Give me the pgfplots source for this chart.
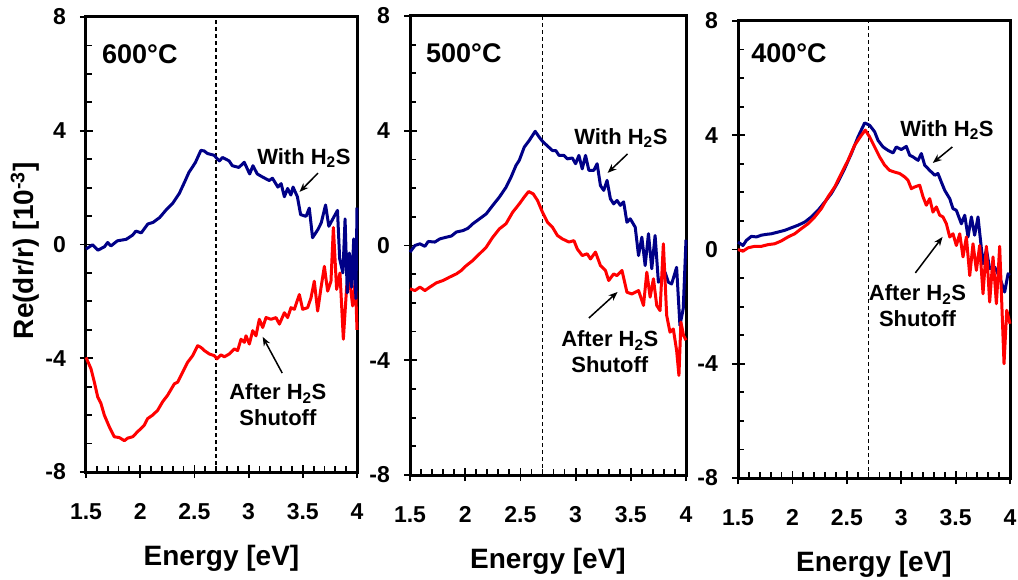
\documentclass[border=0pt]{standalone}
\usepackage{pgfplots}
\pgfplotsset{compat=1.18}
\usepackage{fontspec}
\setmainfont{Liberation Sans}
\usetikzlibrary{arrows.meta}
\definecolor{navyb}{RGB}{0,0,135}
\definecolor{redc}{RGB}{255,0,0}
\newcommand{\tickfont}{\fontsize{23}{25}\selectfont\bfseries}
\newcommand{\labfont}{\fontsize{28}{32}\selectfont\bfseries}
\newcommand{\tempfont}{\fontsize{27}{30}\selectfont\bfseries}
\newcommand{\annfont}{\fontsize{22}{25}\selectfont\bfseries}
\pgfplotsset{
  mystyle/.style={
    scale only axis, anchor=south west,
    xmin=1.5, xmax=4, ymin=-8, ymax=8,
    xtick={1.5,2,2.5,3,3.5,4}, xticklabels={1.5,2,2.5,3,3.5,4},
    ytick={-8,-4,0,4,8}, yticklabels={-8,-4,0,4,8},
    minor x tick num=4, minor y tick num=3,
    tick align=inside, xtick pos=bottom, ytick pos=left,
    major tick length=7pt, minor tick length=6pt,
    extra x ticks={1.5,2,2.5,3,3.5,4}, extra x tick labels={},
    extra x tick style={tick align=outside, major tick length=6pt},
    extra y ticks={-8,-4,0,4,8}, extra y tick labels={},
    extra y tick style={tick align=outside, major tick length=6pt},
    axis line style={line width=3pt},
    every tick/.style={black, line width=1.8pt},
    tick label style={font=\tickfont, inner sep=0pt},
    xticklabel shift=31pt, yticklabel shift=20pt,
    xlabel={Energy [eV]},
    xlabel style={font=\labfont, at={(axis description cs:0.5,0)}, anchor=center, yshift=-86pt},
    clip=false,
  },
  blueline/.style={navyb, line width=3pt, line join=round, no markers},
  redline/.style={redc, line width=3pt, line join=round, no markers},
  dashline/.style={black, line width=1.2pt, dash pattern=on 4pt off 3pt, no markers},
}
\begin{document}
\begin{tikzpicture}
\useasboundingbox (0pt,0pt) rectangle (1018pt,579pt);
% ---------------- 600 C ----------------
\begin{axis}[mystyle, at={(86pt,107pt)}, width=271pt, height=455pt,
  ylabel={Re(dr/r) [10\textsuperscript{-3}]},
  ylabel style={font=\labfont, at={(axis description cs:-0.225,0.486)}, anchor=center}]
\addplot[dashline] coordinates {(2.7,-8) (2.7,8)};
\addplot[redline] coordinates {
(1.500,-3.97) (1.546,-4.37) (1.577,-4.84) (1.608,-5.36) (1.638,-5.59) (1.669,-6.00)
(1.715,-6.41) (1.761,-6.76) (1.808,-6.79) (1.854,-6.90) (1.884,-6.81) (1.931,-6.76)
(1.977,-6.58) (2.007,-6.47) (2.038,-6.35) (2.069,-6.12) (2.115,-6.00) (2.161,-5.83)
(2.207,-5.53) (2.253,-5.30) (2.315,-4.90) (2.346,-4.84) (2.392,-4.49) (2.438,-4.14)
(2.484,-3.91) (2.530,-3.56) (2.561,-3.62) (2.592,-3.73) (2.638,-3.85) (2.684,-3.91)
(2.708,-4.02) (2.745,-3.88) (2.776,-3.95) (2.822,-3.85) (2.868,-3.67) (2.899,-3.73)
(2.930,-3.33) (2.961,-3.44) (2.976,-3.21) (3.007,-3.50) (3.038,-3.03) (3.068,-3.21)
(3.099,-2.63) (3.130,-2.92) (3.161,-2.57) (3.207,-2.63) (3.253,-2.57) (3.284,-2.80)
(3.330,-2.40) (3.360,-2.57) (3.391,-2.22) (3.422,-2.28) (3.468,-1.76) (3.499,-2.28)
(3.545,-2.22) (3.576,-1.87) (3.606,-1.29) (3.637,-2.34) (3.668,-1.52) (3.699,-0.77)
(3.729,-1.64) (3.760,-1.29) (3.782,0.60) (3.812,-1.58) (3.843,-1.00) (3.874,-3.33)
(3.905,-1.47) (3.929,-1.17) (3.960,-2.16) (3.985,-1.23) (4.000,-3.00)};
\addplot[blueline] coordinates {
(1.50,-0.16) (1.56,-0.01) (1.61,-0.20) (1.67,-0.08) (1.70,0.07) (1.73,-0.05)
(1.79,0.13) (1.87,0.18) (1.93,0.33) (1.96,0.47) (2.01,0.41) (2.07,0.72)
(2.12,0.78) (2.18,0.95) (2.24,1.22) (2.30,1.45) (2.36,1.79) (2.41,2.20)
(2.45,2.54) (2.48,2.71) (2.51,2.89) (2.56,3.31) (2.59,3.29) (2.62,3.20)
(2.68,3.14) (2.73,2.94) (2.76,3.06) (2.82,2.94) (2.85,2.77) (2.91,2.71)
(2.96,2.89) (3.01,2.48) (3.04,2.77) (3.08,2.48) (3.13,2.37) (3.19,2.25)
(3.22,2.33) (3.27,2.02) (3.30,2.14) (3.33,1.68) (3.36,1.97) (3.39,1.74)
(3.41,2.02) (3.45,1.68) (3.48,1.05) (3.53,0.99) (3.56,1.28) (3.59,0.24)
(3.64,0.53) (3.67,0.76) (3.71,1.39) (3.74,0.64) (3.79,0.99) (3.82,1.20)
(3.84,-0.50) (3.87,-1.00) (3.89,0.90) (3.91,-1.70) (3.93,-0.30) (3.95,-1.50)
(3.97,0.20) (3.99,-1.90) (4.00,1.30)};
\node[anchor=west, font=\tempfont, inner sep=0pt] at (rel axis cs:0.059,0.918) {600°C};
\node[font=\annfont, inner sep=0pt] at (axis cs:3.51,3.04) {With H\textsubscript{2}S};
\draw[-{Stealth[length=9pt,width=7pt]}, line width=1.5pt] (axis cs:3.64,2.51) -- (axis cs:3.47,1.85);
\node[font=\annfont, align=center, inner sep=0pt] at (axis cs:3.27,-5.64) {After H\textsubscript{2}S\\[1pt]Shutoff};
\draw[-{Stealth[length=9pt,width=7pt]}, line width=1.5pt] (axis cs:3.31,-4.52) -- (axis cs:3.13,-3.25);
\end{axis}
% ---------------- 500 C ----------------
\begin{axis}[mystyle, at={(410pt,104pt)}, width=276pt, height=459pt]
\addplot[dashline] coordinates {(2.7,-8) (2.7,8)};
\addplot[blueline] coordinates {
(1.500,-0.23) (1.545,0.00) (1.590,0.06) (1.635,-0.03) (1.665,0.14) (1.725,0.12)
(1.770,0.23) (1.830,0.29) (1.875,0.33) (1.920,0.47) (1.980,0.52) (2.025,0.60)
(2.070,0.76) (2.130,0.93) (2.190,1.10) (2.250,1.40) (2.310,1.69) (2.370,2.03)
(2.415,2.38) (2.460,2.79) (2.490,2.97) (2.535,3.43) (2.580,3.66) (2.634,3.98)
(2.670,3.78) (2.700,3.63) (2.745,3.47) (2.790,3.31) (2.820,3.31) (2.850,3.14)
(2.895,3.14) (2.925,3.02) (2.970,3.05) (3.000,2.85) (3.030,3.14) (3.060,2.67)
(3.090,3.14) (3.120,2.62) (3.165,2.62) (3.195,2.85) (3.225,2.09) (3.255,1.92)
(3.285,2.27) (3.315,1.63) (3.345,1.45) (3.375,1.57) (3.405,1.40) (3.435,1.52)
(3.465,0.81) (3.495,0.93) (3.540,0.64) (3.570,-0.35) (3.600,0.29) (3.630,-0.70)
(3.660,0.41) (3.690,-0.81) (3.720,0.35) (3.750,-1.28) (3.780,-1.16) (3.810,-0.93)
(3.840,-1.28) (3.870,-1.34) (3.915,-0.76) (3.945,-2.79) (3.975,-2.20) (4.000,0.20)};
\addplot[redline] coordinates {
(1.500,-1.51) (1.545,-1.57) (1.590,-1.45) (1.635,-1.57) (1.680,-1.45) (1.740,-1.30)
(1.800,-1.22) (1.860,-1.10) (1.920,-0.99) (1.965,-0.87) (2.010,-0.70) (2.070,-0.52)
(2.130,-0.29) (2.190,-0.06) (2.250,0.29) (2.310,0.58) (2.370,0.76) (2.430,1.16)
(2.490,1.45) (2.535,1.69) (2.574,1.88) (2.616,1.80) (2.655,1.57) (2.700,1.16)
(2.745,0.81) (2.790,0.64) (2.835,0.35) (2.880,0.23) (2.940,0.12) (2.985,0.17)
(3.015,-0.12) (3.060,-0.35) (3.105,-0.29) (3.135,-0.47) (3.180,-0.23) (3.225,-0.70)
(3.270,-0.87) (3.300,-1.22) (3.345,-0.99) (3.375,-1.05) (3.420,-0.87) (3.465,-1.63)
(3.510,-1.69) (3.570,-1.57) (3.615,-2.09) (3.645,-0.93) (3.675,-1.80) (3.705,-1.16)
(3.735,-2.09) (3.765,-2.27) (3.795,0.06) (3.825,-2.44) (3.855,-3.02) (3.885,-2.91)
(3.915,-3.66) (3.936,-4.53) (3.954,-2.67) (3.978,-3.14) (4.000,-3.30)};
\node[anchor=west, font=\tempfont, inner sep=0pt] at (rel axis cs:0.058,0.919) {500°C};
\node[font=\annfont, inner sep=0pt] at (axis cs:3.41,3.75) {With H\textsubscript{2}S};
\draw[-{Stealth[length=9pt,width=7pt]}, line width=1.5pt] (axis cs:3.47,3.19) -- (axis cs:3.29,2.53);
\node[font=\annfont, align=center, inner sep=0pt] at (axis cs:3.31,-3.71) {After H\textsubscript{2}S\\[1pt]Shutoff};
\draw[-{Stealth[length=9pt,width=7pt]}, line width=1.5pt] (axis cs:3.12,-2.53) -- (axis cs:3.38,-1.62);
\end{axis}
% ---------------- 400 C ----------------
\begin{axis}[mystyle, at={(738pt,101pt)}, width=272pt, height=457pt]
\addplot[dashline] coordinates {(2.7,-8) (2.7,8)};
\addplot[blueline] coordinates {
(1.500,0.26) (1.546,0.14) (1.577,0.32) (1.623,0.46) (1.669,0.44) (1.714,0.50)
(1.760,0.53) (1.806,0.55) (1.868,0.61) (1.929,0.67) (1.990,0.76) (2.052,0.85)
(2.113,0.96) (2.174,1.14) (2.235,1.37) (2.297,1.66) (2.358,1.96) (2.419,2.36)
(2.480,2.83) (2.542,3.36) (2.603,3.94) (2.664,4.43) (2.710,4.35) (2.756,4.12)
(2.787,3.82) (2.833,3.59) (2.879,3.47) (2.925,3.38) (2.955,3.59) (3.001,3.50)
(3.047,3.61) (3.078,3.30) (3.109,3.24) (3.155,3.12) (3.185,3.36) (3.216,2.95)
(3.262,2.77) (3.308,2.60) (3.338,2.66) (3.369,2.36) (3.400,2.07) (3.446,1.78)
(3.476,1.43) (3.507,1.37) (3.553,0.90) (3.584,1.20) (3.614,0.44) (3.645,1.14)
(3.675,0.50) (3.706,1.14) (3.752,-0.50) (3.783,0.00) (3.813,-0.67) (3.859,-0.61)
(3.905,-0.97) (3.951,-1.49) (3.982,-0.85) (4.000,-0.90)};
\addplot[redline] coordinates {
(1.500,0.00) (1.546,-0.06) (1.592,0.06) (1.653,0.11) (1.714,0.11) (1.776,0.17)
(1.837,0.20) (1.898,0.30) (1.960,0.44) (2.021,0.55) (2.082,0.73) (2.143,0.90)
(2.205,1.14) (2.266,1.43) (2.327,1.84) (2.389,2.19) (2.450,2.66) (2.511,3.12)
(2.572,3.65) (2.634,4.00) (2.670,4.18) (2.710,3.94) (2.756,3.59) (2.802,3.24)
(2.848,2.95) (2.894,2.77) (2.940,2.71) (2.986,2.66) (3.032,2.54) (3.063,2.42)
(3.093,2.13) (3.124,2.19) (3.170,2.25) (3.201,1.84) (3.231,1.55) (3.262,1.78)
(3.292,1.31) (3.323,1.49) (3.354,1.20) (3.384,1.14) (3.415,0.90) (3.446,0.44)
(3.476,0.55) (3.507,0.14) (3.538,0.55) (3.568,-0.26) (3.599,0.44) (3.630,-0.91)
(3.660,0.20) (3.691,-0.73) (3.721,0.14) (3.752,-1.55) (3.783,0.11) (3.813,-1.84)
(3.844,-0.26) (3.875,-1.90) (3.905,0.11) (3.945,-4.00) (3.970,-2.13) (4.000,-2.60)};
\node[anchor=west, font=\tempfont, inner sep=0pt] at (rel axis cs:0.048,0.929) {400°C};
\node[font=\annfont, inner sep=0pt] at (axis cs:3.42,4.18) {With H\textsubscript{2}S};
\draw[-{Stealth[length=9pt,width=7pt]}, line width=1.5pt] (axis cs:3.47,3.59) -- (axis cs:3.29,3.03);
\node[font=\annfont, align=center, inner sep=0pt] at (axis cs:3.15,-1.98) {After H\textsubscript{2}S\\[1pt]Shutoff};
\draw[-{Stealth[length=9pt,width=7pt]}, line width=1.5pt] (axis cs:3.13,-0.82) -- (axis cs:3.38,0.44);
\end{axis}
\end{tikzpicture}
\end{document}
